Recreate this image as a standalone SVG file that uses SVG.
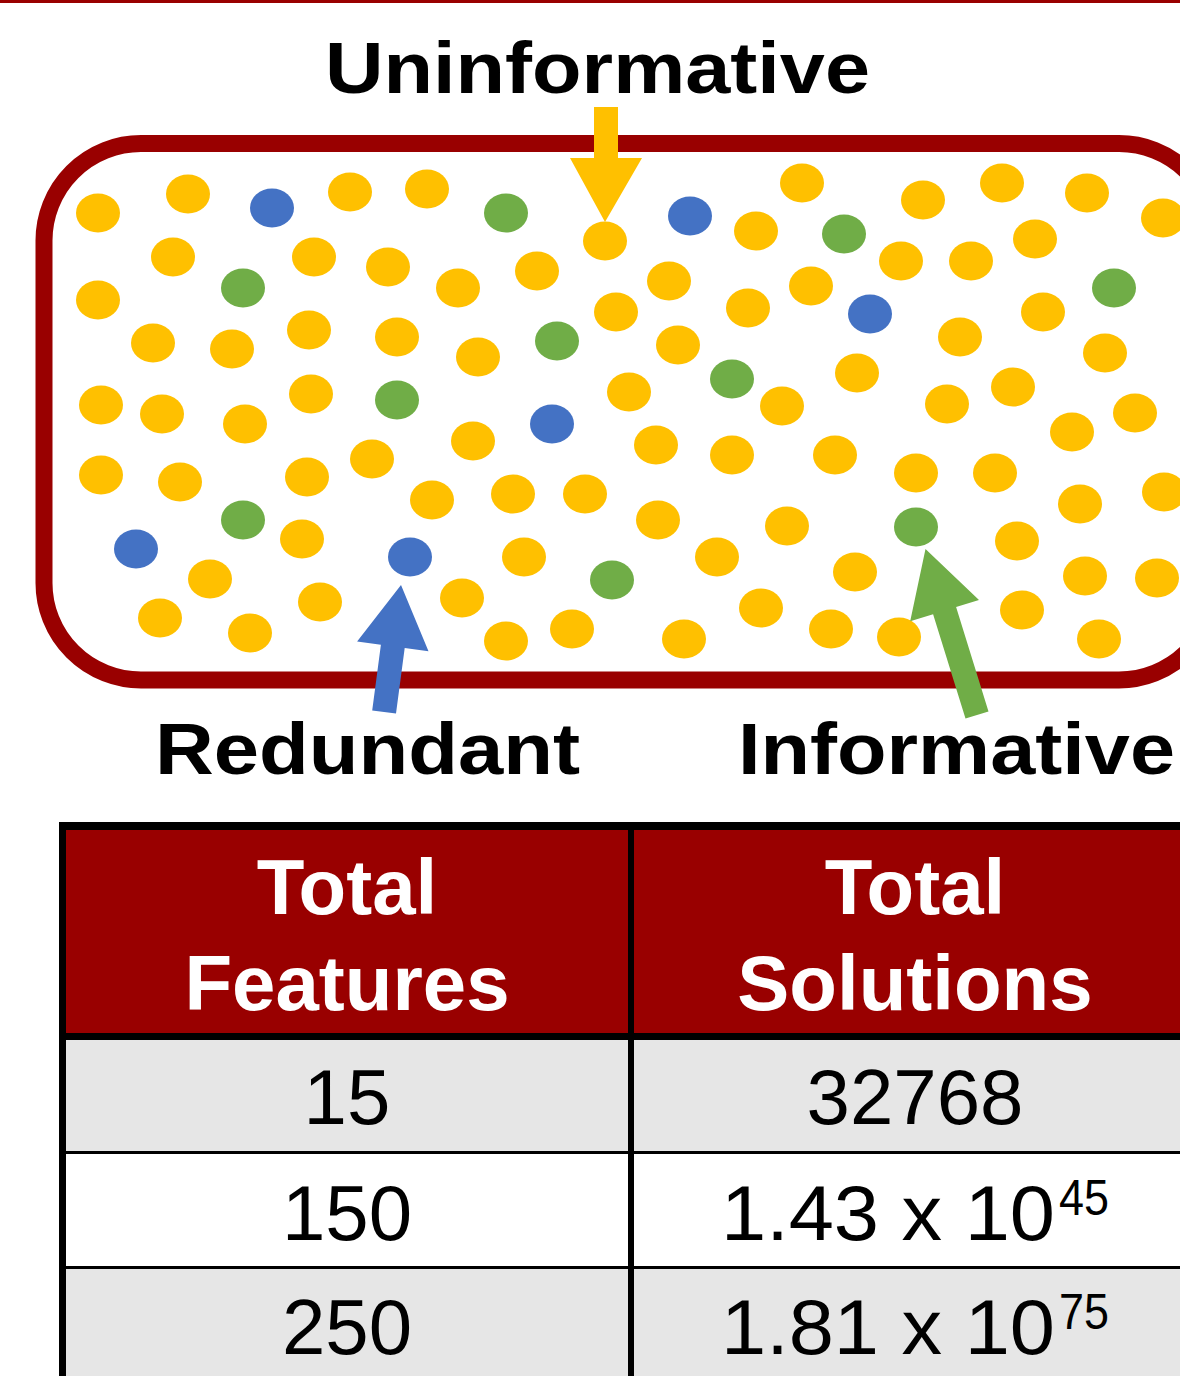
<svg xmlns="http://www.w3.org/2000/svg" width="1180" height="1376" viewBox="0 0 1180 1376">
<style>
.y{fill:#FFC000}.b{fill:#4472C4}.g{fill:#70AD47}
.lbl{font-family:"Liberation Sans",Arial,sans-serif;font-weight:bold;font-size:73px;fill:#000}
.hd{font-family:"Liberation Sans",Arial,sans-serif;font-weight:bold;font-size:78px;fill:#fff;text-anchor:middle}
.cell{font-family:"Liberation Sans",Arial,sans-serif;font-size:78px;fill:#000}
.sup{font-family:"Liberation Sans",Arial,sans-serif;font-size:50px;fill:#000}
</style>
<rect width="1180" height="1376" fill="#fff"/>
<rect x="0" y="0" width="1180" height="3" fill="#990000"/>
<g id="space">
<rect x="44" y="143.5" width="1172" height="536.5" rx="97" ry="97" fill="#fff" stroke="#990000" stroke-width="17"/>
</g>
<g id="features">
<g class="y">
<ellipse cx="98" cy="213" rx="22" ry="19.5"/>
<ellipse cx="188" cy="194" rx="22" ry="19.5"/>
<ellipse cx="350" cy="192" rx="22" ry="19.5"/>
<ellipse cx="427" cy="189" rx="22" ry="19.5"/>
<ellipse cx="605" cy="241" rx="22" ry="19.5"/>
<ellipse cx="756" cy="231" rx="22" ry="19.5"/>
<ellipse cx="802" cy="183" rx="22" ry="19.5"/>
<ellipse cx="923" cy="200" rx="22" ry="19.5"/>
<ellipse cx="1002" cy="183" rx="22" ry="19.5"/>
<ellipse cx="1087" cy="193" rx="22" ry="19.5"/>
<ellipse cx="1163" cy="218" rx="22" ry="19.5"/>
<ellipse cx="173" cy="257" rx="22" ry="19.5"/>
<ellipse cx="314" cy="257" rx="22" ry="19.5"/>
<ellipse cx="388" cy="267" rx="22" ry="19.5"/>
<ellipse cx="458" cy="288" rx="22" ry="19.5"/>
<ellipse cx="537" cy="271" rx="22" ry="19.5"/>
<ellipse cx="669" cy="281" rx="22" ry="19.5"/>
<ellipse cx="748" cy="308" rx="22" ry="19.5"/>
<ellipse cx="811" cy="286" rx="22" ry="19.5"/>
<ellipse cx="901" cy="261" rx="22" ry="19.5"/>
<ellipse cx="971" cy="261" rx="22" ry="19.5"/>
<ellipse cx="1035" cy="239" rx="22" ry="19.5"/>
<ellipse cx="98" cy="300" rx="22" ry="19.5"/>
<ellipse cx="616" cy="312" rx="22" ry="19.5"/>
<ellipse cx="1043" cy="312" rx="22" ry="19.5"/>
<ellipse cx="153" cy="343" rx="22" ry="19.5"/>
<ellipse cx="232" cy="349" rx="22" ry="19.5"/>
<ellipse cx="309" cy="330" rx="22" ry="19.5"/>
<ellipse cx="397" cy="337" rx="22" ry="19.5"/>
<ellipse cx="478" cy="357" rx="22" ry="19.5"/>
<ellipse cx="678" cy="345" rx="22" ry="19.5"/>
<ellipse cx="960" cy="337" rx="22" ry="19.5"/>
<ellipse cx="1105" cy="353" rx="22" ry="19.5"/>
<ellipse cx="101" cy="405" rx="22" ry="19.5"/>
<ellipse cx="162" cy="414" rx="22" ry="19.5"/>
<ellipse cx="245" cy="424" rx="22" ry="19.5"/>
<ellipse cx="311" cy="394" rx="22" ry="19.5"/>
<ellipse cx="473" cy="441" rx="22" ry="19.5"/>
<ellipse cx="629" cy="392" rx="22" ry="19.5"/>
<ellipse cx="782" cy="406" rx="22" ry="19.5"/>
<ellipse cx="857" cy="373" rx="22" ry="19.5"/>
<ellipse cx="947" cy="404" rx="22" ry="19.5"/>
<ellipse cx="1013" cy="387" rx="22" ry="19.5"/>
<ellipse cx="1072" cy="432" rx="22" ry="19.5"/>
<ellipse cx="1135" cy="413" rx="22" ry="19.5"/>
<ellipse cx="101" cy="475" rx="22" ry="19.5"/>
<ellipse cx="180" cy="482" rx="22" ry="19.5"/>
<ellipse cx="307" cy="477" rx="22" ry="19.5"/>
<ellipse cx="372" cy="459" rx="22" ry="19.5"/>
<ellipse cx="432" cy="500" rx="22" ry="19.5"/>
<ellipse cx="513" cy="494" rx="22" ry="19.5"/>
<ellipse cx="585" cy="494" rx="22" ry="19.5"/>
<ellipse cx="656" cy="445" rx="22" ry="19.5"/>
<ellipse cx="732" cy="455" rx="22" ry="19.5"/>
<ellipse cx="835" cy="455" rx="22" ry="19.5"/>
<ellipse cx="916" cy="473" rx="22" ry="19.5"/>
<ellipse cx="995" cy="473" rx="22" ry="19.5"/>
<ellipse cx="1080" cy="504" rx="22" ry="19.5"/>
<ellipse cx="1164" cy="492" rx="22" ry="19.5"/>
<ellipse cx="302" cy="539" rx="22" ry="19.5"/>
<ellipse cx="524" cy="557" rx="22" ry="19.5"/>
<ellipse cx="658" cy="520" rx="22" ry="19.5"/>
<ellipse cx="717" cy="557" rx="22" ry="19.5"/>
<ellipse cx="787" cy="526" rx="22" ry="19.5"/>
<ellipse cx="1017" cy="541" rx="22" ry="19.5"/>
<ellipse cx="1085" cy="576" rx="22" ry="19.5"/>
<ellipse cx="1157" cy="578" rx="22" ry="19.5"/>
<ellipse cx="210" cy="579" rx="22" ry="19.5"/>
<ellipse cx="160" cy="618" rx="22" ry="19.5"/>
<ellipse cx="320" cy="602" rx="22" ry="19.5"/>
<ellipse cx="250" cy="633" rx="22" ry="19.5"/>
<ellipse cx="462" cy="598" rx="22" ry="19.5"/>
<ellipse cx="506" cy="641" rx="22" ry="19.5"/>
<ellipse cx="572" cy="629" rx="22" ry="19.5"/>
<ellipse cx="684" cy="639" rx="22" ry="19.5"/>
<ellipse cx="761" cy="608" rx="22" ry="19.5"/>
<ellipse cx="831" cy="629" rx="22" ry="19.5"/>
<ellipse cx="855" cy="572" rx="22" ry="19.5"/>
<ellipse cx="899" cy="637" rx="22" ry="19.5"/>
<ellipse cx="1022" cy="610" rx="22" ry="19.5"/>
<ellipse cx="1099" cy="639" rx="22" ry="19.5"/>
</g>
<g class="b">
<ellipse cx="272" cy="208" rx="22" ry="19.5"/>
<ellipse cx="690" cy="216" rx="22" ry="19.5"/>
<ellipse cx="870" cy="314" rx="22" ry="19.5"/>
<ellipse cx="552" cy="424" rx="22" ry="19.5"/>
<ellipse cx="136" cy="549" rx="22" ry="19.5"/>
<ellipse cx="410" cy="557" rx="22" ry="19.5"/>
</g>
<g class="g">
<ellipse cx="506" cy="213" rx="22" ry="19.5"/>
<ellipse cx="844" cy="234" rx="22" ry="19.5"/>
<ellipse cx="243" cy="288" rx="22" ry="19.5"/>
<ellipse cx="1114" cy="288" rx="22" ry="19.5"/>
<ellipse cx="557" cy="341" rx="22" ry="19.5"/>
<ellipse cx="397" cy="400" rx="22" ry="19.5"/>
<ellipse cx="732" cy="379" rx="22" ry="19.5"/>
<ellipse cx="243" cy="520" rx="22" ry="19.5"/>
<ellipse cx="612" cy="580" rx="22" ry="19.5"/>
<ellipse cx="916" cy="527" rx="22" ry="19.5"/>
</g>
</g>
<g id="connectors">
<polygon fill="#FFC000" points="594,107 618,107 618,158 642,158 605,222 570,158 594,158"/>
<polygon fill="#4472C4" points="372.2,710.4 380.9,644.8 357.1,641.6 401,585 428.5,651.2 404.7,648 396,713.6"/>
<polygon fill="#70AD47" points="965.5,718.6 933.1,614.2 910.2,621.3 925.5,549 979,600 956.1,607.1 988.5,711.4"/>
</g>
<g id="labels">
<text class="lbl" x="325" y="93" textLength="545" lengthAdjust="spacingAndGlyphs">Uninformative</text>
<text class="lbl" x="155" y="774" textLength="425" lengthAdjust="spacingAndGlyphs">Redundant</text>
<text class="lbl" x="738" y="774" textLength="437" lengthAdjust="spacingAndGlyphs">Informative</text>
</g>
<g id="table">
<rect x="62" y="826" width="1130" height="210" fill="#990000"/>
<rect x="62" y="1036" width="1130" height="117" fill="#E6E6E6"/>
<rect x="62" y="1153" width="1130" height="114" fill="#fff"/>
<rect x="62" y="1267" width="1130" height="120" fill="#E6E6E6"/>
<rect x="59" y="822" width="1130" height="8" fill="#000"/>
<rect x="59" y="1033" width="1130" height="7" fill="#000"/>
<rect x="59" y="1151" width="1130" height="3" fill="#000"/>
<rect x="59" y="1266" width="1130" height="3" fill="#000"/>
<rect x="59" y="822" width="7" height="560" fill="#000"/>
<rect x="628" y="822" width="6" height="560" fill="#000"/>
<text class="hd" x="347" y="914">Total</text>
<text class="hd" x="347" y="1010">Features</text>
<text class="hd" x="915" y="914">Total</text>
<text class="hd" x="915" y="1010">Solutions</text>
<text class="cell" x="347" y="1124" text-anchor="middle">15</text>
<text class="cell" x="915" y="1124" text-anchor="middle">32768</text>
<text class="cell" x="347" y="1240" text-anchor="middle">150</text>
<text class="cell" x="721" y="1240" textLength="334" lengthAdjust="spacingAndGlyphs">1.43 x 10</text>
<text class="sup" x="1059" y="1215" textLength="50" lengthAdjust="spacingAndGlyphs">45</text>
<text class="cell" x="347" y="1354" text-anchor="middle">250</text>
<text class="cell" x="721" y="1354" textLength="334" lengthAdjust="spacingAndGlyphs">1.81 x 10</text>
<text class="sup" x="1059" y="1329" textLength="50" lengthAdjust="spacingAndGlyphs">75</text>
</g>
</svg>
